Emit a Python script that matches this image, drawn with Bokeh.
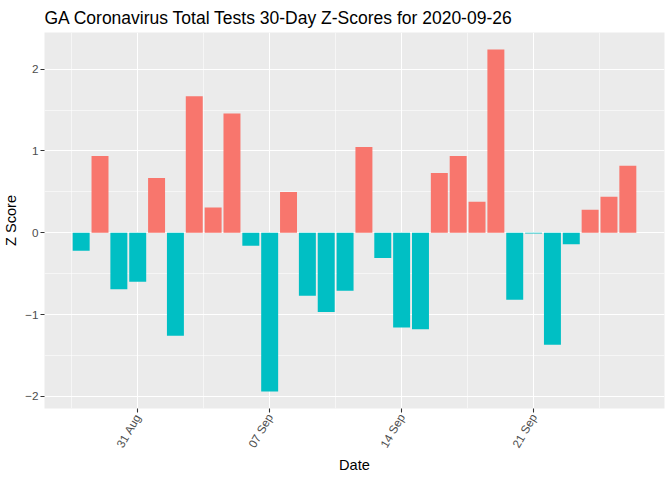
import math
import pandas as pd
from bokeh.plotting import figure
from bokeh.models import ColumnDataSource, Range1d, FixedTicker, DatetimeTickFormatter
from bokeh.embed import file_html
from bokeh.resources import INLINE

dates = pd.date_range("2020-08-28", "2020-09-26", freq="D")
z_scores = [-0.22, 0.94, -0.69, -0.60, 0.67, -1.26, 1.67, 0.31, 1.46, -0.16,
            -1.94, 0.50, -0.77, -0.97, -0.71, 1.05, -0.31, -1.16, -1.18, 0.73,
            0.94, 0.38, 2.24, -0.82, -0.01, -1.37, -0.14, 0.28, 0.44, 0.82]
x_tick_dates = ["2020-08-31", "2020-09-07", "2020-09-14", "2020-09-21"]
y_ticks = [-2, -1, 0, 1, 2]
y_minor = [-1.5, -0.5, 0.5, 1.5]
title_text = "GA Coronavirus Total Tests 30-Day Z-Scores for 2020-09-26"

POS, NEG = "#F8766D", "#00BFC4"
colors = [POS if v > 0 else NEG for v in z_scores]
src = ColumnDataSource(dict(x=dates, top=z_scores, color=colors))

DAY = 86400000.0
def ms(ts):
    return pd.Timestamp(ts).value / 1e6

lo, hi = min(z_scores), max(z_scores)
span = hi - lo
x0 = ms(dates[0]) - 0.45 * DAY
x1 = ms(dates[-1]) + 0.45 * DAY
xs = x1 - x0

p = figure(width=672, height=476, x_axis_type="datetime",
           output_backend="svg", toolbar_location=None,
           x_range=Range1d(x0 - 0.05 * xs, x1 + 0.05 * xs),
           y_range=Range1d(lo - 0.05 * span, hi + 0.05 * span),
           min_border_left=0, min_border_right=8, min_border_top=0, min_border_bottom=0)

p.vbar(x="x", top="top", bottom=0, width=0.9 * DAY, fill_color="color",
       line_color=None, source=src)

major_x = [ms(d) for d in x_tick_dates]
minor_x = []
m = major_x[0] - 3.5 * DAY
while m < x1 + 0.05 * xs:
    minor_x.append(m)
    m += 7 * DAY
p.xaxis.ticker = FixedTicker(ticks=major_x, minor_ticks=minor_x)
p.xaxis.formatter = DatetimeTickFormatter(days="%d %b", months="%d %b")
p.yaxis.ticker = FixedTicker(ticks=y_ticks, minor_ticks=y_minor)

p.title.text = title_text
p.title.text_font = "Liberation Sans"
p.title.text_font_size = "17.5px"
p.title.text_font_style = "normal"
p.title.text_color = "black"
p.title.offset = 0
p.title.standoff = 10

p.background_fill_color = "#EBEBEB"
p.border_fill_color = "white"
p.outline_line_color = None

for g in (p.xgrid, p.ygrid):
    g.grid_line_color = "white"
    g.grid_line_width = 1.1
    g.minor_grid_line_color = "white"
    g.minor_grid_line_width = 0.55

for ax in (p.xaxis, p.yaxis):
    ax.axis_line_color = None
    ax.major_tick_line_color = "#333333"
    ax.major_tick_line_width = 1.1
    ax.major_tick_in = 0
    ax.major_tick_out = 4
    ax.minor_tick_line_color = None
    ax.major_label_text_font = "Liberation Sans"
    ax.major_label_text_font_size = "11.7px"
    ax.major_label_text_color = "#4D4D4D"
    ax.axis_label_text_font = "Liberation Sans"
    ax.axis_label_text_font_size = "14.6px"
    ax.axis_label_text_font_style = "normal"
    ax.axis_label_text_color = "black"

p.xaxis.axis_label = "Date"
p.yaxis.axis_label = "Z Score"
p.xaxis.major_label_orientation = math.pi / 3
p.xaxis.major_label_standoff = 2
p.xaxis.axis_label_standoff = 1
p.yaxis.major_label_standoff = 2
p.yaxis.axis_label_standoff = 3

open("out.html", "w").write(file_html(p, INLINE))
